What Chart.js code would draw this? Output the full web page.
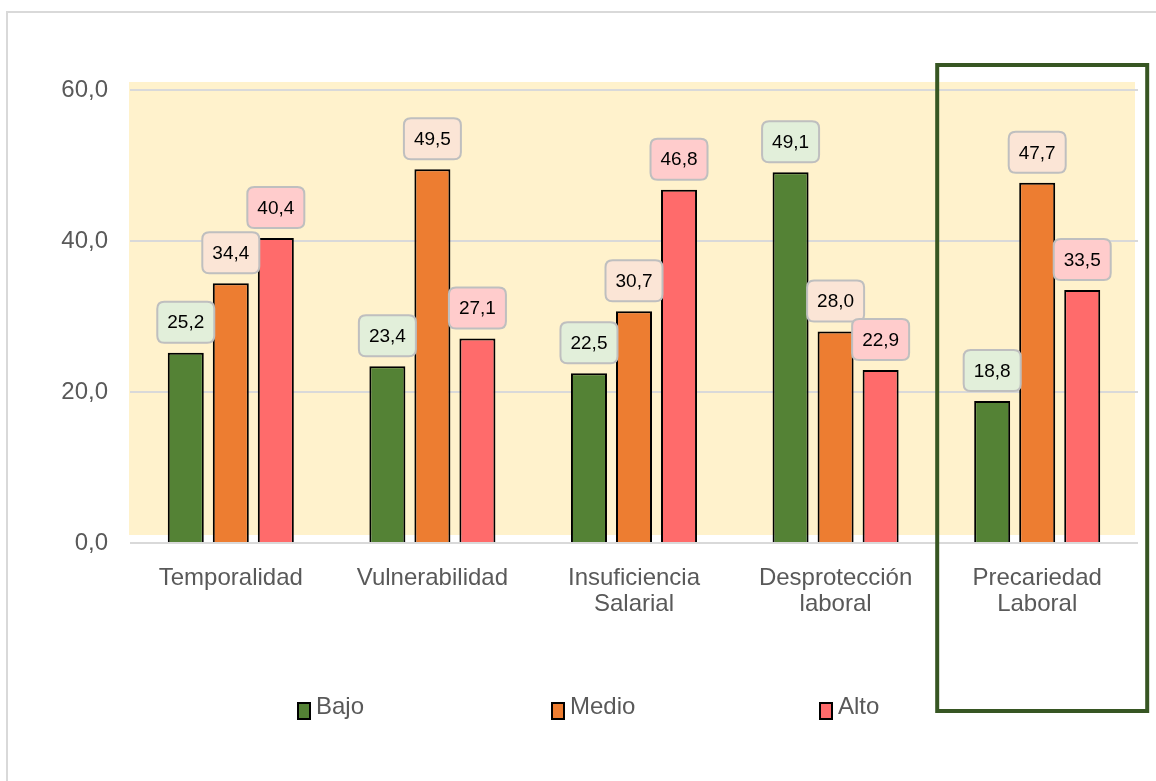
<!DOCTYPE html>
<html>
<head>
<meta charset="utf-8">
<script src="https://cdn.jsdelivr.net/npm/chart.js@4.4.1/dist/chart.umd.min.js"></script>
<style>
  html, body { margin: 0; padding: 0; background: #ffffff; }
  #wrap { position: relative; width: 1156px; height: 781px; }
</style>
</head>
<body>
<div id="wrap"><canvas id="c"></canvas></div>
<script>
const categories = [["Temporalidad"], ["Vulnerabilidad"], ["Insuficiencia", "Salarial"], ["Desprotección", "laboral"], ["Precariedad", "Laboral"]];
const seriesNames = ["Bajo", "Medio", "Alto"];
const bajo  = [25.2, 23.4, 22.5, 49.1, 18.8];
const medio = [34.4, 49.5, 30.7, 28.0, 47.7];
const alto  = [40.4, 27.1, 46.8, 22.9, 33.5];
const yTicks = [0, 20, 40, 60];

const barColors = ["#548235", "#ED7D31", "#FF6B6B"];
const labelFills = ["#E2EFDA", "#FBE5D6", "#FFCCCC"];
const FONT = "'Liberation Sans', Arial, sans-serif";
const fmt = v => v.toFixed(1).replace('.', ',');

function roundRect(ctx, x, y, w, h, r) {
  ctx.beginPath();
  ctx.moveTo(x + r, y);
  ctx.lineTo(x + w - r, y);
  ctx.quadraticCurveTo(x + w, y, x + w, y + r);
  ctx.lineTo(x + w, y + h - r);
  ctx.quadraticCurveTo(x + w, y + h, x + w - r, y + h);
  ctx.lineTo(x + r, y + h);
  ctx.quadraticCurveTo(x, y + h, x, y + h - r);
  ctx.lineTo(x, y + r);
  ctx.quadraticCurveTo(x, y, x + r, y);
  ctx.closePath();
}

const decor = {
  id: 'decor',
  beforeDraw(chart) {
    const { ctx, chartArea: a } = chart;
    ctx.save();
    // outer frame (left + top)
    ctx.strokeStyle = '#D9D9D9';
    ctx.lineWidth = 2;
    ctx.beginPath();
    ctx.moveTo(7, chart.height);
    ctx.lineTo(7, 12);
    ctx.lineTo(chart.width, 12);
    ctx.stroke();
    // plot background
    ctx.fillStyle = '#FFF2CC';
    ctx.fillRect(a.left - 1, a.top - 8, a.right - a.left - 2, a.bottom - a.top);
    ctx.restore();
  },
  afterDatasetsDraw(chart) {
    const { ctx } = chart;
    ctx.save();
    chart.data.datasets.forEach((ds, di) => {
      const meta = chart.getDatasetMeta(di);
      meta.data.forEach((bar, i) => {
        const w = 57, h = 41;
        const x = bar.x - w / 2;
        const y = bar.y - 10 - h;
        roundRect(ctx, x, y, w, h, 7);
        ctx.fillStyle = labelFills[di];
        ctx.fill();
        ctx.strokeStyle = '#BFBFBF';
        ctx.lineWidth = 2;
        ctx.stroke();
        ctx.fillStyle = '#000000';
        ctx.font = '19px ' + FONT;
        ctx.textAlign = 'center';
        ctx.textBaseline = 'middle';
        ctx.fillText(fmt(ds.data[i]), bar.x, y + h / 2 + 1);
      });
    });
    ctx.restore();
  },
  afterDraw(chart) {
    const { ctx, scales } = chart;
    const xs = scales.x, ys = scales.y;
    ctx.save();
    // highlight frame around last category
    const cx = xs.getPixelForTick(4);
    ctx.strokeStyle = '#375623';
    ctx.lineWidth = 4;
    ctx.strokeRect(cx - 100, ys.getPixelForValue(60) - 25, 210, 646);
    // legend
    const legendX = [298, 552, 820];
    const ly = 707;
    ctx.font = '24px ' + FONT;
    ctx.textBaseline = 'middle';
    ctx.textAlign = 'left';
    chart.data.datasets.forEach((ds, di) => {
      const bx = legendX[di];
      ctx.fillStyle = barColors[di];
      ctx.fillRect(bx, ly - 4, 12, 16);
      ctx.strokeStyle = '#000000';
      ctx.lineWidth = 2;
      ctx.strokeRect(bx, ly - 4, 12, 16);
      ctx.fillStyle = '#595959';
      ctx.fillText(ds.label, bx + 18, ly);
    });
    ctx.restore();
  }
};

new Chart(document.getElementById('c'), {
  type: 'bar',
  data: {
    labels: categories,
    datasets: [bajo, medio, alto].map((d, i) => ({
      label: seriesNames[i],
      data: d,
      backgroundColor: barColors[i],
      borderColor: '#000000',
      borderWidth: 2,
      categoryPercentage: 0.67,
      barPercentage: 0.8
    }))
  },
  options: {
    responsive: true,
    maintainAspectRatio: false,
    animation: false,
    devicePixelRatio: 1,
    layout: { padding: { left: 0, right: 18, top: 90, bottom: 0 } },
    plugins: { legend: { display: false }, tooltip: { enabled: false } },
    scales: {
      x: {
        grid: { display: false },
        border: { display: false },
        ticks: { color: '#595959', font: { family: FONT, size: 24, lineHeight: 1.08 }, padding: 14, maxRotation: 0, autoSkip: false },
        afterFit(s) { s.height = 238; }
      },
      y: {
        min: 0, max: 60,
        afterBuildTicks(s) { s.ticks = yTicks.map(v => ({ value: v })); },
        grid: { color: '#D9D9D9', lineWidth: 2, drawTicks: false },
        border: { display: false },
        ticks: { color: '#595959', font: { family: FONT, size: 24 }, padding: 22, callback: v => fmt(v) },
        afterFit(s) { s.width = 130; }
      }
    }
  },
  plugins: [decor]
});
</script>
</body>
</html>
